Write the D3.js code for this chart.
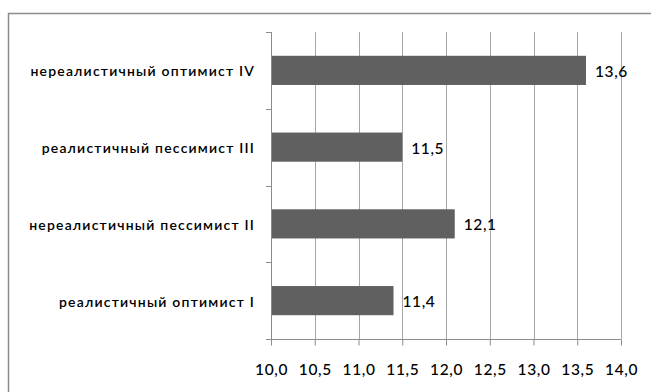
<!DOCTYPE html>
<html>
<head>
<meta charset="utf-8">
<script src="https://cdn.jsdelivr.net/npm/d3@7"></script>
<style>
  html, body { margin: 0; padding: 0; background: #fff; }
  svg { display: block; }
  text { font-family: Lato, "Open Sans", sans-serif; fill: #000; }
</style>
</head>
<body>
<svg id="chart" width="651" height="392"></svg>
<script>
// Categories listed bottom to top as they appear on the chart
const categories = [
  "реалистичный оптимист I",
  "нереалистичный пессимист II",
  "реалистичный пессимист III",
  "нереалистичный оптимист IV"
];
const values = [11.4, 12.1, 11.5, 13.6];
const xTicks = [10.0, 10.5, 11.0, 11.5, 12.0, 12.5, 13.0, 13.5, 14.0];

const ru = d3.formatLocale({ decimal: ",", thousands: " ", grouping: [3], currency: ["", ""] });
const fmt = ru.format(".1f");

const svg = d3.select("#chart");

// outer frame
svg.append("rect")
  .attr("x", 8.5).attr("y", 13.5)
  .attr("width", 700).attr("height", 500)
  .attr("fill", "none").attr("stroke", "#8c8c8c").attr("stroke-width", 1.5);

const x = d3.scaleLinear().domain([10, 14]).range([271, 621]);
const y = d3.scaleBand()
  .domain(categories.slice().reverse())
  .range([32, 339])
  .paddingInner(0.62)
  .paddingOuter(0.31);

const g = svg.append("g");

// vertical gridlines
g.selectAll("line.grid")
  .data(xTicks.slice(1))
  .join("line")
  .attr("class", "grid")
  .attr("x1", d => Math.round(x(d)) + 0.5).attr("x2", d => Math.round(x(d)) + 0.5)
  .attr("y1", 32).attr("y2", 339)
  .attr("stroke", "#a6a6a6").attr("stroke-width", 1);

// bars
g.selectAll("rect.bar")
  .data(values)
  .join("rect")
  .attr("class", "bar")
  .attr("x", x(10))
  .attr("y", (d, i) => y(categories[i]))
  .attr("width", d => x(d) - x(10))
  .attr("height", y.bandwidth())
  .attr("fill", "#606060");

// x axis
const xAxis = d3.axisBottom(x)
  .tickValues(xTicks)
  .tickFormat(fmt)
  .tickSize(6)
  .tickPadding(18);
const xg = svg.append("g").attr("transform", "translate(0,339.5)").call(xAxis);
xg.select(".domain").attr("stroke", "#8c8c8c").attr("d", "M266,0H621");
xg.selectAll(".tick line").attr("stroke", "#8c8c8c");
xg.selectAll(".tick text")
  .attr("font-family", "Lato, sans-serif")
  .attr("font-size", 15.5)
  .attr("font-weight", 500)
  .attr("letter-spacing", "0.6px")
  .attr("fill", "#000");

// y axis: line with boundary ticks, labels placed separately
const yAxisLine = svg.append("g");
yAxisLine.append("line")
  .attr("x1", 271.5).attr("x2", 271.5).attr("y1", 32).attr("y2", 339)
  .attr("stroke", "#8c8c8c");
const bounds = d3.range(categories.length + 1).map(i => 32 + i * y.step());
yAxisLine.selectAll("line.yt")
  .data(bounds)
  .join("line")
  .attr("class", "yt")
  .attr("x1", 266).attr("x2", 271)
  .attr("y1", d => Math.round(d) + 0.5).attr("y2", d => Math.round(d) + 0.5)
  .attr("stroke", "#8c8c8c");

// category labels
svg.selectAll("text.cat")
  .data(categories)
  .join("text")
  .attr("class", "cat")
  .attr("x", 255)
  .attr("y", d => y(d) + y.bandwidth() / 2 + 1)
  .attr("dy", "0.35em")
  .attr("text-anchor", "end")
  .attr("font-size", 14)
  .attr("font-weight", 600)
  .attr("letter-spacing", "1.2px")
  .text(d => d);

// value labels
svg.selectAll("text.val")
  .data(values)
  .join("text")
  .attr("class", "val")
  .attr("x", d => x(d) + 9)
  .attr("y", (d, i) => y(categories[i]) + y.bandwidth() / 2 + 1)
  .attr("dy", "0.35em")
  .attr("font-size", 15.5)
  .attr("font-weight", 500)
  .attr("letter-spacing", "0.6px")
  .text(d => fmt(d));
</script>
</body>
</html>
